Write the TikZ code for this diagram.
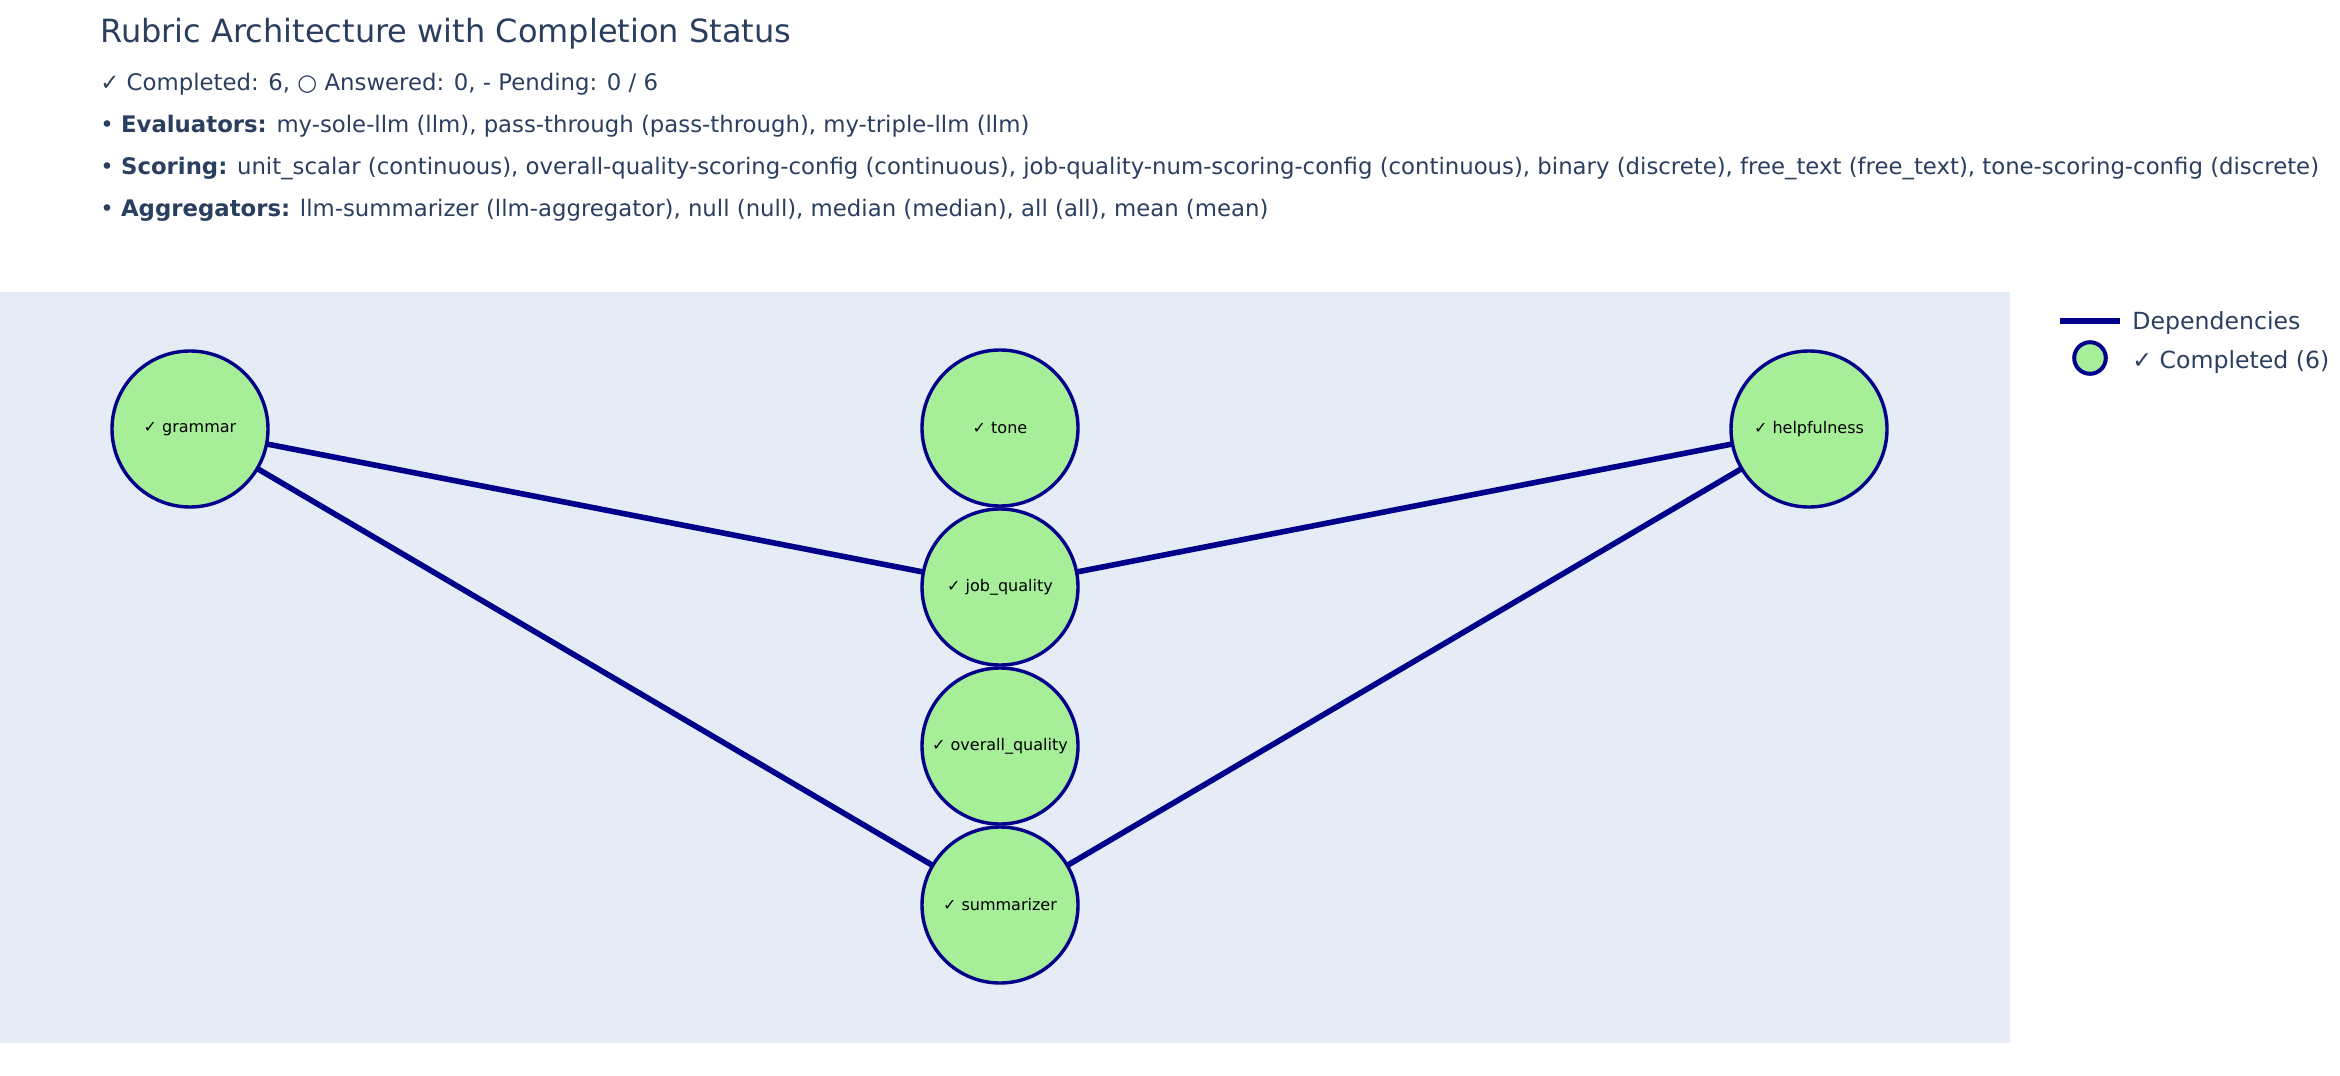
\documentclass[tikz,border=0pt]{standalone}
\usepackage{fontspec}
\setmainfont{DejaVu Sans}
\usetikzlibrary{backgrounds}
\definecolor{txt}{HTML}{2A3F5F}
\definecolor{plotbg}{HTML}{E5ECF6}
\definecolor{dkblue}{HTML}{00008B}
\definecolor{nodegreen}{HTML}{A6EE98}
\begin{document}
\begin{tikzpicture}[x=0.5pt,y=-0.5pt,
  stat/.style={circle, draw=dkblue, line width=1.7pt, fill=nodegreen, minimum size=78pt, inner sep=0pt, font=\fontsize{8}{9.6}\selectfont, text=black},
  dep/.style={draw=dkblue, line width=2.8pt},
  info/.style={anchor=base west, inner sep=0pt, text=txt, font=\fontsize{11.4}{13.6}\selectfont},
  legtext/.style={anchor=base west, inner sep=0pt, text=txt, font=\fontsize{11.8}{14}\selectfont},
  titlestyle/.style={anchor=base west, inner sep=0pt, text=txt, font=\fontsize{16}{19}\selectfont}]
\useasboundingbox (0,0) rectangle (2340,1076);

% header texts
\node[titlestyle] (title) at (100,42) {Rubric Architecture with Completion Status};
\node[info] (status) at (100,90) {✓ Completed: 6, ○ Answered: 0, - Pending: 0 / 6};
\node[info] (evals) at (100,132) {• \textbf{Evaluators:} my-sole-llm (llm), pass-through (pass-through), my-triple-llm (llm)};
\node[info] (scoring) at (100,174) {• \textbf{Scoring:} unit\_scalar (continuous), overall-quality-scoring-config (continuous), job-quality-num-scoring-config (continuous), binary (discrete), free\_text (free\_text), tone-scoring-config (discrete)};
\node[info] (aggs) at (100,216) {• \textbf{Aggregators:} llm-summarizer (llm-aggregator), null (null), median (median), all (all), mean (mean)};

% nodes
\node[stat] (grammar) at (190,429) {✓ grammar};
\node[stat] (tone) at (1000,428) {✓ tone};
\node[stat] (job) at (1000,587) {✓ job\_quality};
\node[stat] (overall) at (1000,746) {✓ overall\_quality};
\node[stat] (summ) at (1000,905) {✓ summarizer};
\node[stat] (helpful) at (1809,429) {✓ helpfulness};

\begin{scope}[on background layer]
  \fill[plotbg] (0,292) rectangle (2010,1043);
  \draw[dep] (grammar.center) -- (job.center);
  \draw[dep] (grammar.center) -- (summ.center);
  \draw[dep] (helpful.center) -- (job.center);
  \draw[dep] (helpful.center) -- (summ.center);
\end{scope}

% legend
\coordinate (legA) at (2060,321);
\coordinate (legB) at (2120,321);
\draw[draw=dkblue, line width=3pt] (legA) -- (legB);
\node[legtext] (legdep) at (2132,329) {Dependencies};
\node[circle, draw=dkblue, line width=2pt, fill=nodegreen, minimum size=15.8pt, inner sep=0pt] (legnode) at (2090,358) {};
\node[legtext] (legcomp) at (2132,368) {✓ Completed (6)};
\end{tikzpicture}
\end{document}
